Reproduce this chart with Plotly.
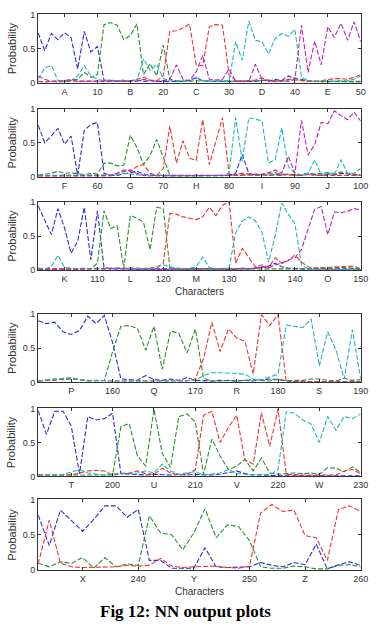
import plotly.graph_objects as go

# ---------------- data ----------------
p1_x = list(range(1, 51))
p1_blue = [0.73, 0.47, 0.72, 0.63, 0.73, 0.66, 0.2, 0.75, 0.45, 0.53,
           0.04, 0.03, 0.02, 0.02, 0.03, 0.04, 0.02, 0.03, 0.02, 0.02,
           0.02, 0.03, 0.02, 0.04, 0.07, 0.03, 0.02, 0.02, 0.02, 0.02,
           0.03, 0.02, 0.03, 0.02, 0.04, 0.02, 0.05, 0.03, 0.1, 0.06,
           0.05, 0.02, 0.02, 0.01, 0.02, 0.02, 0.01, 0.02, 0.02, 0.01]
p1_green = [0.02, 0.01, 0.02, 0.01, 0.02, 0.03, 0.05, 0.15, 0.08, 0.12,
            0.85, 0.88, 0.84, 0.63, 0.69, 0.86, 0.12, 0.28, 0.1, 0.55,
            0.05, 0.03, 0.02, 0.02, 0.03, 0.02, 0.02, 0.02, 0.03, 0.02,
            0.02, 0.03, 0.02, 0.02, 0.03, 0.04, 0.03, 0.02, 0.04, 0.07,
            0.03, 0.02, 0.02, 0.02, 0.01, 0.02, 0.02, 0.02, 0.03, 0.02]
p1_red = [0.02, 0.01, 0.02, 0.02, 0.02, 0.03, 0.02, 0.03, 0.02, 0.02,
          0.02, 0.02, 0.03, 0.02, 0.03, 0.05, 0.08, 0.04, 0.03, 0.1,
          0.75, 0.76, 0.8, 0.86, 0.26, 0.25, 0.82, 0.85, 0.84, 0.12,
          0.03, 0.02, 0.03, 0.04, 0.07, 0.03, 0.02, 0.04, 0.05, 0.04,
          0.03, 0.02, 0.02, 0.03, 0.05, 0.06, 0.06, 0.05, 0.08, 0.12]
p1_cyan = [0.05, 0.22, 0.25, 0.03, 0.02, 0.03, 0.1, 0.25, 0.1, 0.05,
           0.03, 0.04, 0.03, 0.04, 0.03, 0.04, 0.35, 0.18, 0.27, 0.06,
           0.03, 0.02, 0.03, 0.02, 0.08, 0.03, 0.02, 0.02, 0.03, 0.02,
           0.6, 0.33, 0.9, 0.62, 0.6, 0.42, 0.65, 0.72, 0.68, 0.78,
           0.08, 0.03, 0.02, 0.02, 0.02, 0.03, 0.02, 0.03, 0.05, 0.1]
p1_magenta = [0.1, 0.05, 0.02, 0.02, 0.03, 0.05, 0.02, 0.02, 0.02, 0.03,
              0.02, 0.02, 0.02, 0.02, 0.03, 0.02, 0.05, 0.03, 0.02, 0.03,
              0.05, 0.26, 0.05, 0.03, 0.16, 0.4, 0.05, 0.04, 0.05, 0.2,
              0.02, 0.03, 0.02, 0.27, 0.05, 0.03, 0.02, 0.03, 0.02, 0.05,
              0.84, 0.15, 0.61, 0.26, 0.82, 0.66, 0.87, 0.62, 0.89, 0.6]

p2_x = list(range(51, 101))
p2_blue = [0.76, 0.5, 0.6, 0.71, 0.48, 0.6, 0.02, 0.68, 0.77, 0.8,
           0.05, 0.02, 0.02, 0.04, 0.05, 0.08, 0.04, 0.02, 0.02, 0.02,
           0.01, 0.01, 0.01, 0.01, 0.01, 0.01, 0.01, 0.01, 0.01, 0.02,
           0.05, 0.33, 0.05, 0.02, 0.03, 0.02, 0.03, 0.02, 0.04, 0.03,
           0.02, 0.04, 0.03, 0.02, 0.04, 0.03, 0.05, 0.04, 0.03, 0.02]
p2_green = [0.02, 0.03, 0.05, 0.08, 0.05, 0.06, 0.04, 0.03, 0.05, 0.04,
            0.2, 0.2, 0.16, 0.17, 0.61, 0.43, 0.18, 0.31, 0.55, 0.27,
            0.02, 0.01, 0.01, 0.01, 0.01, 0.01, 0.01, 0.01, 0.01, 0.02,
            0.02, 0.03, 0.02, 0.02, 0.03, 0.02, 0.03, 0.04, 0.03, 0.02,
            0.03, 0.05, 0.04, 0.05, 0.06, 0.05, 0.07, 0.05, 0.04, 0.03]
p2_red = [0.01, 0.01, 0.02, 0.01, 0.02, 0.01, 0.01, 0.01, 0.01, 0.02,
          0.01, 0.02, 0.05, 0.1, 0.08, 0.15, 0.18, 0.05, 0.02, 0.12,
          0.75, 0.2, 0.53, 0.27, 0.24, 0.84, 0.18, 0.52, 0.87, 0.04,
          0.02, 0.02, 0.03, 0.04, 0.03, 0.04, 0.06, 0.03, 0.02, 0.02,
          0.02, 0.03, 0.02, 0.02, 0.03, 0.02, 0.02, 0.03, 0.02, 0.02]
p2_cyan = [0.02, 0.02, 0.02, 0.03, 0.02, 0.02, 0.02, 0.03, 0.02, 0.02,
           0.02, 0.02, 0.03, 0.05, 0.04, 0.03, 0.02, 0.03, 0.02, 0.02,
           0.01, 0.01, 0.01, 0.01, 0.01, 0.01, 0.01, 0.01, 0.01, 0.05,
           0.87, 0.23, 0.87, 0.85, 0.82, 0.2, 0.25, 0.72, 0.15, 0.05,
           0.03, 0.05, 0.25, 0.03, 0.05, 0.03, 0.25, 0.05, 0.05, 0.12]
p2_magenta = [0.01, 0.01, 0.01, 0.01, 0.01, 0.01, 0.01, 0.01, 0.01, 0.01,
              0.01, 0.01, 0.05, 0.08, 0.1, 0.05, 0.02, 0.01, 0.01, 0.01,
              0.01, 0.01, 0.01, 0.01, 0.01, 0.01, 0.01, 0.01, 0.01, 0.02,
              0.03, 0.05, 0.04, 0.03, 0.04, 0.06, 0.1, 0.05, 0.3, 0.05,
              0.83, 0.32, 0.47, 0.8, 0.78, 0.97, 0.9, 0.84, 0.95, 0.82]

p3_x = list(range(101, 151))
p3_blue = [0.94, 0.72, 0.52, 0.9, 0.62, 0.25, 0.42, 0.92, 0.15, 0.87,
           0.04, 0.02, 0.02, 0.03, 0.02, 0.03, 0.02, 0.03, 0.02, 0.03,
           0.02, 0.02, 0.03, 0.02, 0.02, 0.03, 0.02, 0.03, 0.02, 0.01,
           0.02, 0.02, 0.02, 0.03, 0.04, 0.06, 0.1, 0.05, 0.03, 0.02,
           0.02, 0.02, 0.02, 0.03, 0.02, 0.02, 0.02, 0.03, 0.02, 0.01]
p3_green = [0.02, 0.01, 0.02, 0.02, 0.01, 0.02, 0.02, 0.01, 0.02, 0.1,
            0.87, 0.61, 0.65, 0.03, 0.8, 0.76, 0.7, 0.3, 0.92, 0.9,
            0.04, 0.02, 0.02, 0.01, 0.02, 0.02, 0.01, 0.02, 0.01, 0.01,
            0.01, 0.02, 0.01, 0.02, 0.02, 0.01, 0.02, 0.02, 0.01, 0.02,
            0.02, 0.02, 0.03, 0.03, 0.04, 0.05, 0.04, 0.03, 0.02, 0.02]
p3_red = [0.02, 0.02, 0.03, 0.02, 0.02, 0.02, 0.03, 0.02, 0.02, 0.02,
          0.02, 0.02, 0.02, 0.02, 0.02, 0.02, 0.02, 0.02, 0.03, 0.1,
          0.83, 0.82, 0.78, 0.76, 0.74, 0.78, 0.92, 0.8, 0.95, 1.0,
          0.1, 0.32, 0.18, 0.05, 0.08, 0.04, 0.18, 0.1, 0.14, 0.22,
          0.12, 0.05, 0.03, 0.03, 0.03, 0.03, 0.05, 0.05, 0.06, 0.02]
p3_cyan = [0.03, 0.02, 0.05, 0.22, 0.04, 0.03, 0.02, 0.03, 0.02, 0.03,
           0.02, 0.03, 0.02, 0.02, 0.03, 0.02, 0.02, 0.03, 0.05, 0.08,
           0.05, 0.03, 0.02, 0.03, 0.05, 0.19, 0.04, 0.02, 0.02, 0.03,
           0.55, 0.72, 0.78, 0.72, 0.55, 0.12, 0.5, 0.98, 0.82, 0.68,
           0.08, 0.02, 0.01, 0.01, 0.01, 0.01, 0.01, 0.01, 0.01, 0.01]
p3_magenta = [0.01, 0.01, 0.01, 0.01, 0.01, 0.01, 0.01, 0.01, 0.01, 0.01,
              0.01, 0.02, 0.03, 0.02, 0.01, 0.01, 0.01, 0.01, 0.01, 0.01,
              0.01, 0.01, 0.01, 0.01, 0.01, 0.01, 0.01, 0.01, 0.01, 0.01,
              0.02, 0.03, 0.02, 0.03, 0.05, 0.03, 0.08, 0.1, 0.15, 0.18,
              0.3, 0.6, 0.89, 0.93, 0.52, 0.85, 0.84, 0.86, 0.9, 0.88]

p4_x = list(range(151, 191))
p4_blue = [0.9, 0.86, 0.88, 0.74, 0.7, 0.76, 0.97, 0.86, 0.98, 0.58,
           0.05, 0.04, 0.03, 0.1, 0.04, 0.03, 0.05, 0.03, 0.07, 0.03,
           0.02, 0.02, 0.03, 0.02, 0.02, 0.03, 0.02, 0.04, 0.05, 0.04,
           0.02, 0.01, 0.01, 0.01, 0.01, 0.01, 0.01, 0.01, 0.01, 0.01]
p4_green = [0.02, 0.04, 0.05, 0.04, 0.05, 0.04, 0.03, 0.02, 0.03, 0.45,
            0.82, 0.83, 0.79, 0.47, 0.82, 0.19, 0.75, 0.72, 0.43, 0.78,
            0.06, 0.02, 0.02, 0.03, 0.02, 0.03, 0.04, 0.03, 0.02, 0.05,
            0.02, 0.03, 0.03, 0.05, 0.05, 0.03, 0.02, 0.06, 0.03, 0.04]
p4_red = [0.02, 0.02, 0.03, 0.05, 0.06, 0.04, 0.02, 0.03, 0.02, 0.02,
          0.02, 0.02, 0.01, 0.02, 0.01, 0.02, 0.01, 0.02, 0.02, 0.05,
          0.35, 0.88, 0.45, 0.78, 0.65, 0.6, 0.12, 0.99, 0.83, 0.99,
          0.0, 0.01, 0.02, 0.01, 0.01, 0.01, 0.01, 0.01, 0.01, 0.01]
p4_cyan = [0.02, 0.03, 0.04, 0.06, 0.07, 0.04, 0.02, 0.03, 0.02, 0.02,
           0.02, 0.02, 0.02, 0.02, 0.02, 0.02, 0.02, 0.03, 0.02, 0.03,
           0.1, 0.14, 0.14, 0.14, 0.13, 0.12, 0.05, 0.04, 0.08, 0.12,
           0.84, 0.82, 0.8, 0.93, 0.24, 0.74, 0.48, 0.05, 0.77, 0.05]

p5_x = list(range(191, 231))
p5_blue = [0.97, 0.62, 0.96, 0.96, 0.74, 0.04, 0.88, 0.83, 0.85, 0.93,
           0.04, 0.03, 0.02, 0.02, 0.03, 0.02, 0.02, 0.03, 0.02, 0.03,
           0.02, 0.02, 0.03, 0.05, 0.08, 0.04, 0.02, 0.02, 0.01, 0.01,
           0.01, 0.01, 0.01, 0.01, 0.01, 0.01, 0.01, 0.01, 0.01, 0.01]
p5_green = [0.02, 0.02, 0.02, 0.02, 0.02, 0.02, 0.02, 0.02, 0.02, 0.02,
            0.73, 0.78, 0.3, 0.15, 0.99, 0.34, 0.13, 0.88, 0.92, 0.8,
            0.03, 0.55, 0.3, 0.1, 0.15, 0.25, 0.08, 0.27, 0.05, 0.03,
            0.04, 0.05, 0.04, 0.05, 0.03, 0.13, 0.12, 0.07, 0.14, 0.06]
p5_red = [0.02, 0.02, 0.01, 0.02, 0.02, 0.05, 0.08, 0.09, 0.08, 0.02,
          0.03, 0.05, 0.08, 0.04, 0.03, 0.12, 0.05, 0.02, 0.03, 0.1,
          0.9, 0.96, 0.5, 0.72, 0.9, 0.24, 0.18, 0.94, 0.44, 0.99,
          0.03, 0.02, 0.02, 0.02, 0.02, 0.03, 0.02, 0.08, 0.1, 0.04]
p5_cyan = [0.02, 0.02, 0.02, 0.03, 0.06, 0.1, 0.05, 0.03, 0.02, 0.03,
           0.05, 0.04, 0.05, 0.08, 0.05, 0.18, 0.08, 0.03, 0.05, 0.07,
           0.02, 0.03, 0.05, 0.1, 0.04, 0.03, 0.02, 0.03, 0.02, 0.1,
           0.95, 0.93, 0.83, 0.77, 0.5, 0.88, 0.68, 0.88, 0.85, 0.92]

p6_x = list(range(231, 261))
p6_blue = [0.78, 0.35, 0.85, 0.7, 0.55, 0.72, 0.91, 0.91, 0.75, 0.86,
           0.14, 0.14, 0.03, 0.03, 0.03, 0.32, 0.05, 0.04, 0.04, 0.05,
           0.11, 0.07, 0.05, 0.11, 0.08, 0.37, 0.02, 0.08, 0.12, 0.07]
p6_green = [0.1, 0.05, 0.12, 0.1, 0.18, 0.03, 0.18, 0.05, 0.09, 0.07,
            0.77, 0.53, 0.5, 0.29, 0.53, 0.87, 0.46, 0.64, 0.62, 0.42,
            0.05, 0.03, 0.03, 0.06, 0.05, 0.02, 0.02, 0.07, 0.08, 0.05]
p6_red = [0.09, 0.71, 0.1, 0.05, 0.04, 0.04, 0.04, 0.05, 0.07, 0.06,
          0.07, 0.17, 0.06, 0.04, 0.05, 0.06, 0.06, 0.04, 0.03, 0.06,
          0.81, 0.93, 0.83, 0.85, 0.49, 0.46, 0.14, 0.86, 0.91, 0.83]

p1_ticks = [5, 10, 15, 20, 25, 30, 35, 40, 45, 50]
p1_ticktext = ["A", "10", "B", "20", "C", "30", "D", "40", "E", "50"]
p2_ticks = [55, 60, 65, 70, 75, 80, 85, 90, 95, 100]
p2_ticktext = ["F", "60", "G", "70", "H", "80", "I", "90", "J", "100"]
p3_ticks = [105, 110, 115, 120, 125, 130, 135, 140, 145, 150]
p3_ticktext = ["K", "110", "L", "120", "M", "130", "N", "140", "O", "150"]
p4_ticks = [155, 160, 165, 170, 175, 180, 185, 190]
p4_ticktext = ["P", "160", "Q", "170", "R", "180", "S", "190"]
p5_ticks = [195, 200, 205, 210, 215, 220, 225, 230]
p5_ticktext = ["T", "200", "U", "210", "V", "220", "W", "230"]
p6_ticks = [235, 240, 245, 250, 255, 260]
p6_ticktext = ["X", "240", "Y", "250", "Z", "260"]

y_ticks = [0, 0.5, 1]
y_ticktext = ["0", "0.5", "1"]

# ---------------- styling ----------------
W, H = 379, 627
COLORS = {"blue": "#2b2bdc", "green": "#2a8f2a", "red": "#ec3434",
          "cyan": "#1fb8b8", "magenta": "#b826b8"}

panels = [
    (p1_x, [("blue", p1_blue), ("green", p1_green), ("red", p1_red),
            ("cyan", p1_cyan), ("magenta", p1_magenta)],
     [1, 50], p1_ticks, p1_ticktext, (9.5, 79), False),
    (p2_x, [("blue", p2_blue), ("green", p2_green), ("red", p2_red),
            ("cyan", p2_cyan), ("magenta", p2_magenta)],
     [51, 100], p2_ticks, p2_ticktext, (105.5, 174.5), False),
    (p3_x, [("blue", p3_blue), ("green", p3_green), ("red", p3_red),
            ("cyan", p3_cyan), ("magenta", p3_magenta)],
     [101, 150], p3_ticks, p3_ticktext, (200, 269.5), True),
    (p4_x, [("blue", p4_blue), ("green", p4_green), ("red", p4_red),
            ("cyan", p4_cyan)],
     [151, 190], p4_ticks, p4_ticktext, (314, 383.5), False),
    (p5_x, [("blue", p5_blue), ("green", p5_green), ("red", p5_red),
            ("cyan", p5_cyan)],
     [191, 230], p5_ticks, p5_ticktext, (410, 479), False),
    (p6_x, [("blue", p6_blue), ("green", p6_green), ("red", p6_red)],
     [231, 260], p6_ticks, p6_ticktext, (502.5, 574.5), True),
]

X0, X1 = 39 / W, 368.5 / W
FONT = "Liberation Sans, Arial, sans-serif"
fig = go.Figure()
annotations = []
layout = {}

for i, (xs, series, xr, tv, tt, (top, bot), xlabel) in enumerate(panels, start=1):
    xa = "x" if i == 1 else f"x{i}"
    ya = "y" if i == 1 else f"y{i}"
    for cname, vals in series:
        fig.add_trace(go.Scatter(
            x=xs, y=vals, mode="lines", xaxis=xa, yaxis=ya,
            line=dict(color=COLORS[cname], width=1.1, dash="5px,2px"),
            showlegend=False, hoverinfo="skip"))
    ydom = [1 - bot / H, 1 - top / H]
    common = dict(showline=True, linecolor="#333", linewidth=1, mirror="ticks",
                  ticks="inside", ticklen=3, tickcolor="#333", tickwidth=1,
                  showgrid=False, zeroline=False,
                  tickfont=dict(size=9, color="#333", family=FONT))
    layout["xaxis" if i == 1 else f"xaxis{i}"] = dict(
        domain=[X0, X1], anchor=ya, range=xr, tickmode="array",
        tickvals=tv, ticktext=tt, **common)
    layout["yaxis" if i == 1 else f"yaxis{i}"] = dict(
        domain=ydom, anchor=xa, range=[0, 1], tickmode="array",
        tickvals=y_ticks, ticktext=y_ticktext, **common)
    annotations.append(dict(
        text="Probability", xref="paper", yref="paper",
        x=12 / W, y=1 - (top + bot) / 2 / H, textangle=-90,
        showarrow=False, xanchor="center", yanchor="middle",
        font=dict(size=11, color="#333", family=FONT)))
    if xlabel:
        annotations.append(dict(
            text="Characters", xref="paper", yref="paper",
            x=(39 + 368.5) / 2 / W, y=1 - (bot + 22) / H,
            showarrow=False, xanchor="center", yanchor="middle",
            font=dict(size=10, color="#333", family=FONT)))

annotations.append(dict(
    text="<b>Fig 12: NN output plots</b>", xref="paper", yref="paper",
    x=0.5, y=0.0, showarrow=False, xanchor="center", yanchor="bottom",
    borderpad=0,
    font=dict(size=17, color="#000", family="Liberation Serif, Times New Roman, serif")))

fig.update_layout(
    width=W, height=H, margin=dict(l=0, r=0, t=0, b=0),
    paper_bgcolor="white", plot_bgcolor="white",
    annotations=annotations, **layout)

fig.write_html("out.html", config={"displayModeBar": False})
